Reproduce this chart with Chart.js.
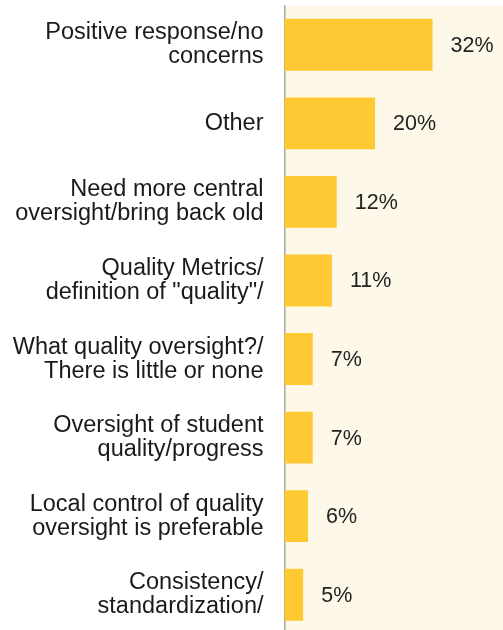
<!DOCTYPE html>
<html>
<head>
<meta charset="utf-8">
<script src="https://cdn.jsdelivr.net/npm/chart.js@4"></script>
<style>
  html, body { margin: 0; padding: 0; background: #ffffff; overflow: hidden; }
  #wrap { position: relative; width: 503px; height: 634px; }
</style>
</head>
<body>
<div id="wrap"><canvas id="c"></canvas></div>
<script>
const categories = [
  ["Positive response/no", "concerns"],
  ["Other"],
  ["Need more central", "oversight/bring back old"],
  ["Quality Metrics/", "definition of \"quality\"/"],
  ["What quality oversight?/", "There is little or none"],
  ["Oversight of student", "quality/progress"],
  ["Local control of quality", "oversight is preferable"],
  ["Consistency/", "standardization/"]
];
const percentValues = [32, 20, 12, 11, 7, 7, 6, 5];
const valueLabels = percentValues.map(v => v + "%");

const plotBackground = {
  id: 'plotBackground',
  beforeDraw(chart) {
    const { ctx, chartArea } = chart;
    ctx.save();
    ctx.fillStyle = '#fef8e9';
    ctx.fillRect(chartArea.left, chartArea.top, chartArea.right - chartArea.left, chartArea.bottom - chartArea.top);
    ctx.restore();
  }
};

const barValueLabels = {
  id: 'barValueLabels',
  afterDatasetsDraw(chart) {
    const { ctx } = chart;
    const meta = chart.getDatasetMeta(0);
    ctx.save();
    ctx.font = '21.5px "Liberation Sans", Arial, sans-serif';
    ctx.fillStyle = '#222222';
    ctx.textAlign = 'left';
    ctx.textBaseline = 'middle';
    meta.data.forEach((bar, i) => {
      ctx.fillText(valueLabels[i], bar.x + 18, bar.y + 1);
    });
    ctx.restore();
  }
};

new Chart(document.getElementById('c'), {
  type: 'bar',
  data: {
    labels: categories,
    datasets: [{
      data: percentValues,
      backgroundColor: '#ffc933',
      borderWidth: 0,
      barPercentage: 0.66,
      categoryPercentage: 1.0
    }]
  },
  options: {
    indexAxis: 'y',
    responsive: true,
    maintainAspectRatio: false,
    animation: false,
    layout: { autoPadding: false, padding: { top: 5.5, right: 0, bottom: 0, left: 0 } },
    plugins: { legend: { display: false }, tooltip: { enabled: false } },
    scales: {
      x: {
        display: false,
        min: 1.1,
        max: 46.7
      },
      y: {
        grid: { display: false, drawTicks: false },
        border: { display: true, color: '#a8a8a8', width: 1.5 },
        ticks: {
          padding: 21,
          color: '#1a1a1a',
          font: { family: '"Liberation Sans", Arial, sans-serif', size: 23.5, lineHeight: 1.02 }
        },
        afterFit(scale) {
          scale.width = 284.5;
          scale.paddingTop = 0;
          scale.paddingBottom = 0;
        }
      }
    }
  },
  plugins: [plotBackground, barValueLabels]
});
</script>
</body>
</html>
